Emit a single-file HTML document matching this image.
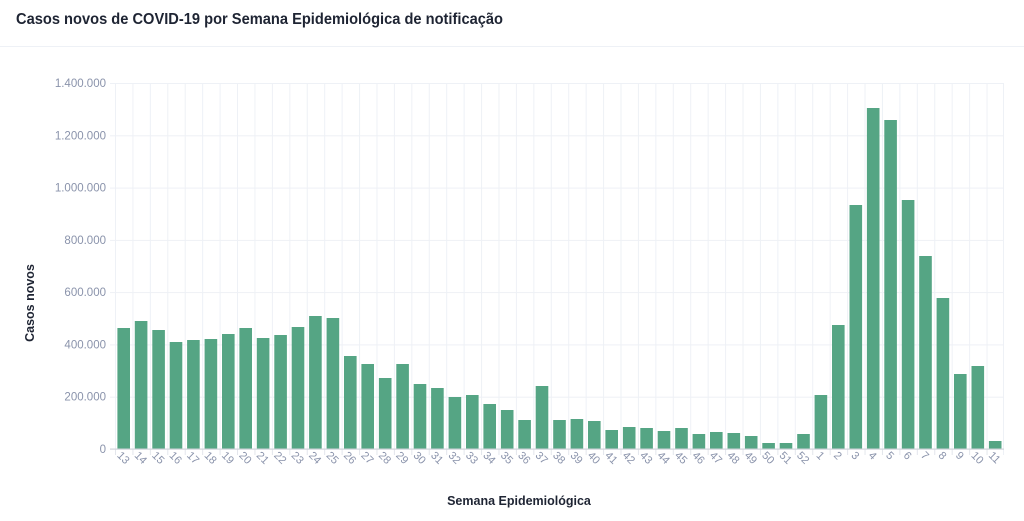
<!DOCTYPE html>
<html><head><meta charset="utf-8"><style>
html,body{margin:0;padding:0;background:#fff;}
svg{display:block;font-family:"Liberation Sans",sans-serif;}
</style></head><body>
<svg width="1024" height="521" viewBox="0 0 1024 521">
<defs>
<pattern id="vg" x="115" y="0" width="17.431" height="521" patternUnits="userSpaceOnUse">
<rect x="0" y="0" width="1" height="521" fill="#eef1f6"/>
</pattern>
<pattern id="tk" x="115" y="0" width="17.431" height="521" patternUnits="userSpaceOnUse">
<rect x="0" y="0" width="1" height="521" fill="#e3e6ec"/>
</pattern>
</defs>
<text x="16" y="24" font-size="15.5" font-weight="bold" fill="#1e2433" textLength="487" lengthAdjust="spacingAndGlyphs">Casos novos de COVID-19 por Semana Epidemiológica de notificação</text>
<rect x="0" y="46" width="1024" height="1" fill="#eef1f6"/>
<rect x="115" y="83" width="889" height="366" fill="url(#vg)"/>
<rect x="115" y="449" width="889" height="6" fill="url(#tk)"/>
<rect x="1003" y="83" width="1" height="372" fill="#eef1f6"/>
<g fill="#eef1f6">
<rect x="110" y="83" width="894" height="1"/>
<rect x="110" y="135.3" width="894" height="1"/>
<rect x="110" y="187.6" width="894" height="1"/>
<rect x="110" y="239.9" width="894" height="1"/>
<rect x="110" y="292.1" width="894" height="1"/>
<rect x="110" y="344.4" width="894" height="1"/>
<rect x="110" y="396.7" width="894" height="1"/>
</g>
<g font-size="11.5" fill="#8a93ab" text-anchor="end">
<text x="106" y="87">1.400.000</text>
<text x="106" y="139.3">1.200.000</text>
<text x="106" y="191.6">1.000.000</text>
<text x="106" y="243.9">800.000</text>
<text x="106" y="296.1">600.000</text>
<text x="106" y="348.4">400.000</text>
<text x="106" y="400.7">200.000</text>
<text x="106" y="453">0</text>
</g>
<g fill="#55a584">
<rect x="117.4" y="328" width="12.6" height="121"/>
<rect x="134.8" y="321" width="12.6" height="128"/>
<rect x="152.3" y="330" width="12.6" height="119"/>
<rect x="169.7" y="342" width="12.6" height="107"/>
<rect x="187.1" y="340" width="12.6" height="109"/>
<rect x="204.6" y="339" width="12.6" height="110"/>
<rect x="222.0" y="334" width="12.6" height="115"/>
<rect x="239.4" y="328" width="12.6" height="121"/>
<rect x="256.8" y="338" width="12.6" height="111"/>
<rect x="274.3" y="335" width="12.6" height="114"/>
<rect x="291.7" y="327" width="12.6" height="122"/>
<rect x="309.1" y="316" width="12.6" height="133"/>
<rect x="326.6" y="318" width="12.6" height="131"/>
<rect x="344.0" y="356" width="12.6" height="93"/>
<rect x="361.4" y="364" width="12.6" height="85"/>
<rect x="378.9" y="378" width="12.6" height="71"/>
<rect x="396.3" y="364" width="12.6" height="85"/>
<rect x="413.7" y="384" width="12.6" height="65"/>
<rect x="431.1" y="388" width="12.6" height="61"/>
<rect x="448.6" y="397" width="12.6" height="52"/>
<rect x="466.0" y="395" width="12.6" height="54"/>
<rect x="483.4" y="404" width="12.6" height="45"/>
<rect x="500.9" y="410" width="12.6" height="39"/>
<rect x="518.3" y="420" width="12.6" height="29"/>
<rect x="535.7" y="386" width="12.6" height="63"/>
<rect x="553.2" y="420" width="12.6" height="29"/>
<rect x="570.6" y="419" width="12.6" height="30"/>
<rect x="588.0" y="421" width="12.6" height="28"/>
<rect x="605.4" y="430" width="12.6" height="19"/>
<rect x="622.9" y="427" width="12.6" height="22"/>
<rect x="640.3" y="428" width="12.6" height="21"/>
<rect x="657.7" y="431" width="12.6" height="18"/>
<rect x="675.2" y="428" width="12.6" height="21"/>
<rect x="692.6" y="434" width="12.6" height="15"/>
<rect x="710.0" y="432" width="12.6" height="17"/>
<rect x="727.5" y="433" width="12.6" height="16"/>
<rect x="744.9" y="436" width="12.6" height="13"/>
<rect x="762.3" y="443" width="12.6" height="6"/>
<rect x="779.7" y="443" width="12.6" height="6"/>
<rect x="797.2" y="434" width="12.6" height="15"/>
<rect x="814.6" y="395" width="12.6" height="54"/>
<rect x="832.0" y="325" width="12.6" height="124"/>
<rect x="849.5" y="205" width="12.6" height="244"/>
<rect x="866.9" y="108" width="12.6" height="341"/>
<rect x="884.3" y="120" width="12.6" height="329"/>
<rect x="901.8" y="200" width="12.6" height="249"/>
<rect x="919.2" y="256" width="12.6" height="193"/>
<rect x="936.6" y="298" width="12.6" height="151"/>
<rect x="954.0" y="374" width="12.6" height="75"/>
<rect x="971.5" y="366" width="12.6" height="83"/>
<rect x="988.9" y="441" width="12.6" height="8"/>
</g>
<rect x="110" y="448.5" width="894" height="1.2" fill="#cfd3da"/>
<g font-size="11" fill="#8a93ab" transform="translate(-3,0)">
<text transform="translate(119.5,456) rotate(45)">13</text>
<text transform="translate(136.9,456) rotate(45)">14</text>
<text transform="translate(154.4,456) rotate(45)">15</text>
<text transform="translate(171.8,456) rotate(45)">16</text>
<text transform="translate(189.2,456) rotate(45)">17</text>
<text transform="translate(206.7,456) rotate(45)">18</text>
<text transform="translate(224.1,456) rotate(45)">19</text>
<text transform="translate(241.5,456) rotate(45)">20</text>
<text transform="translate(258.9,456) rotate(45)">21</text>
<text transform="translate(276.4,456) rotate(45)">22</text>
<text transform="translate(293.8,456) rotate(45)">23</text>
<text transform="translate(311.2,456) rotate(45)">24</text>
<text transform="translate(328.7,456) rotate(45)">25</text>
<text transform="translate(346.1,456) rotate(45)">26</text>
<text transform="translate(363.5,456) rotate(45)">27</text>
<text transform="translate(381.0,456) rotate(45)">28</text>
<text transform="translate(398.4,456) rotate(45)">29</text>
<text transform="translate(415.8,456) rotate(45)">30</text>
<text transform="translate(433.2,456) rotate(45)">31</text>
<text transform="translate(450.7,456) rotate(45)">32</text>
<text transform="translate(468.1,456) rotate(45)">33</text>
<text transform="translate(485.5,456) rotate(45)">34</text>
<text transform="translate(503.0,456) rotate(45)">35</text>
<text transform="translate(520.4,456) rotate(45)">36</text>
<text transform="translate(537.8,456) rotate(45)">37</text>
<text transform="translate(555.3,456) rotate(45)">38</text>
<text transform="translate(572.7,456) rotate(45)">39</text>
<text transform="translate(590.1,456) rotate(45)">40</text>
<text transform="translate(607.5,456) rotate(45)">41</text>
<text transform="translate(625.0,456) rotate(45)">42</text>
<text transform="translate(642.4,456) rotate(45)">43</text>
<text transform="translate(659.8,456) rotate(45)">44</text>
<text transform="translate(677.3,456) rotate(45)">45</text>
<text transform="translate(694.7,456) rotate(45)">46</text>
<text transform="translate(712.1,456) rotate(45)">47</text>
<text transform="translate(729.6,456) rotate(45)">48</text>
<text transform="translate(747.0,456) rotate(45)">49</text>
<text transform="translate(764.4,456) rotate(45)">50</text>
<text transform="translate(781.8,456) rotate(45)">51</text>
<text transform="translate(799.3,456) rotate(45)">52</text>
<text transform="translate(818.7,456) rotate(45)">1</text>
<text transform="translate(836.1,456) rotate(45)">2</text>
<text transform="translate(853.6,456) rotate(45)">3</text>
<text transform="translate(871.0,456) rotate(45)">4</text>
<text transform="translate(888.4,456) rotate(45)">5</text>
<text transform="translate(905.9,456) rotate(45)">6</text>
<text transform="translate(923.3,456) rotate(45)">7</text>
<text transform="translate(940.7,456) rotate(45)">8</text>
<text transform="translate(958.1,456) rotate(45)">9</text>
<text transform="translate(973.6,456) rotate(45)">10</text>
<text transform="translate(991.0,456) rotate(45)">11</text>
</g>
<text x="519" y="505" font-size="12.5" font-weight="bold" fill="#1e2433" text-anchor="middle">Semana Epidemiológica</text>
<text transform="translate(34,303) rotate(-90)" font-size="12.5" font-weight="bold" fill="#1e2433" text-anchor="middle">Casos novos</text>
</svg>
</body></html>
